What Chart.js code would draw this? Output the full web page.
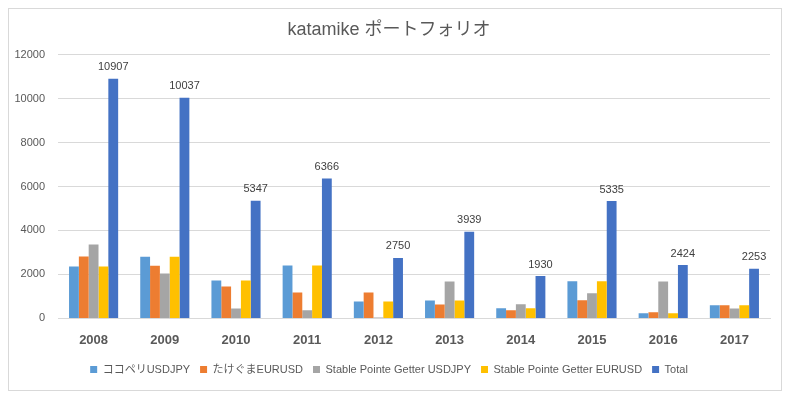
<!DOCTYPE html>
<html>
<head>
<meta charset="utf-8">
<script src="https://cdn.jsdelivr.net/npm/chart.js@4/dist/chart.umd.min.js"></script>
<style>
  html, body { margin: 0; padding: 0; background: #fff; }
  #wrap { position: relative; width: 793px; height: 399px; }
</style>
</head>
<body>
<div id="wrap"><canvas id="chart" width="793" height="399"></canvas></div>
<script>
const years = ["2008", "2009", "2010", "2011", "2012", "2013", "2014", "2015", "2016", "2017"];
const kokopeliUsdJpy = [2364, 2800, 1720, 2409, 765, 814, 460, 1685, 230, 600];
const takegumaEurUsd = [2818, 2400, 1450, 1182, 1175, 630, 370, 820, 280, 600];
const stableUsdJpy = [3361, 2037, 450, 366, 45, 1680, 640, 1145, 1684, 453];
const stableEurUsd = [2364, 2800, 1727, 2409, 765, 815, 460, 1685, 230, 600];
const totals = [10907, 10037, 5347, 6366, 2750, 3939, 1930, 5335, 2424, 2253];
const yTicks = [0, 2000, 4000, 6000, 8000, 10000, 12000];

const fontFamily = "'Liberation Sans', 'Noto Sans CJK JP', sans-serif";
const textColor = "#595959";

// outer frame like the spreadsheet chart border
const framePlugin = {
  id: "frame",
  beforeDraw(chart) {
    const ctx = chart.ctx;
    ctx.save();
    ctx.fillStyle = "#fff";
    ctx.fillRect(0, 0, chart.width, chart.height);
    ctx.strokeStyle = "#d9d9d9";
    ctx.lineWidth = 1;
    ctx.strokeRect(8.5, 8.5, 773, 382);
    ctx.restore();
  }
};

// value labels above the Total bars
const totalLabels = {
  id: "totalLabels",
  afterDatasetsDraw(chart) {
    const ctx = chart.ctx;
    const meta = chart.getDatasetMeta(4);
    ctx.save();
    ctx.font = "11px " + fontFamily;
    ctx.fillStyle = "#404040";
    ctx.textAlign = "center";
    ctx.textBaseline = "bottom";
    meta.data.forEach((bar, i) => {
      ctx.fillText(String(totals[i]), bar.x, bar.y - 6);
    });
    ctx.restore();
  }
};

new Chart(document.getElementById("chart"), {
  type: "bar",
  data: {
    labels: years,
    datasets: [
      { label: "ココペリUSDJPY", data: kokopeliUsdJpy, backgroundColor: "#5B9BD5" },
      { label: "たけぐまEURUSD", data: takegumaEurUsd, backgroundColor: "#ED7D31" },
      { label: "Stable Pointe Getter USDJPY", data: stableUsdJpy, backgroundColor: "#A5A5A5" },
      { label: "Stable Pointe Getter EURUSD", data: stableEurUsd, backgroundColor: "#FFC000" },
      { label: "Total", data: totals, backgroundColor: "#4472C4" }
    ]
  },
  options: {
    responsive: false,
    animation: false,
    layout: { padding: { left: 8, right: 23, top: 19, bottom: 14 } },
    datasets: { bar: { categoryPercentage: 0.69, barPercentage: 1.0 } },
    plugins: {
      title: {
        display: true,
        text: "katamike ポートフォリオ",
        color: textColor,
        font: { family: fontFamily, size: 18, weight: "normal" },
        padding: { top: 0, bottom: 14 }
      },
      legend: {
        position: "bottom",
        labels: {
          color: textColor,
          font: { family: fontFamily, size: 11 },
          boxWidth: 7,
          boxHeight: 7,
          padding: 10
        }
      },
      tooltip: { enabled: false }
    },
    scales: {
      x: {
        grid: { display: false },
        border: { color: "#d9d9d9" },
        ticks: {
          color: textColor,
          font: { family: fontFamily, size: 13, weight: "bold" },
          padding: 6
        }
      },
      y: {
        min: 0,
        max: 12000,
        afterFit(scale) { scale.width = 50; },
        afterBuildTicks(scale) { scale.ticks = yTicks.map(v => ({ value: v })); },
        grid: { color: "#d9d9d9", drawTicks: false },
        border: { display: false },
        ticks: {
          color: textColor,
          font: { family: fontFamily, size: 11 },
          padding: 13,
          callback: (v) => String(v)
        }
      }
    }
  },
  plugins: [framePlugin, totalLabels]
});
</script>
</body>
</html>
